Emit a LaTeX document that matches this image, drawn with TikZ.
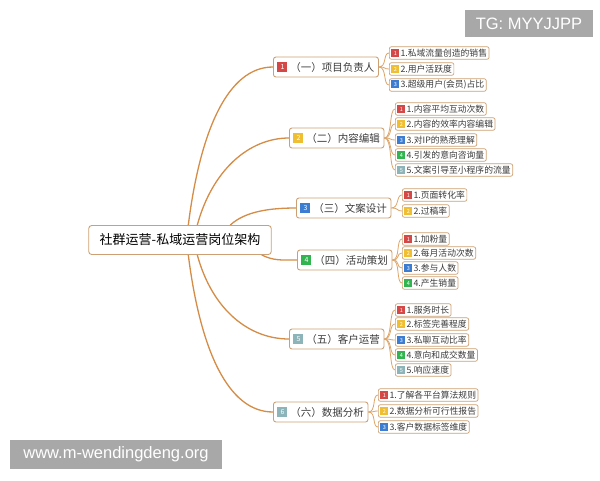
\documentclass[tikz,border=0pt]{standalone}
\usepackage{fontspec}
\setmainfont{Liberation Sans}
\newfontfamily\cjk{Noto Sans CJK SC}
\usetikzlibrary{backgrounds}
\definecolor{nodeborder}{RGB}{205,160,115}
\definecolor{linkorange}{RGB}{212,140,70}
\definecolor{linklight}{RGB}{222,165,105}
\definecolor{textgray}{RGB}{60,60,60}
\definecolor{bred}{RGB}{212,72,72}
\definecolor{byellow}{RGB}{240,190,50}
\definecolor{bblue}{RGB}{60,125,210}
\definecolor{bgreen}{RGB}{50,180,80}
\definecolor{bteal}{RGB}{140,180,185}
\definecolor{tagbg}{RGB}{168,168,168}
\newcommand\lb[2]{{\setlength\fboxsep{0pt}\colorbox{#1}{\makebox[8pt][c]{\rule[-0.6pt]{0pt}{8pt}\raisebox{1.2pt}{\textcolor{white}{\fontsize{5.5}{5}\selectfont #2}}}}}\hspace{1.2pt}}
\newcommand\mb[2]{{\setlength\fboxsep{0pt}\colorbox{#1}{\makebox[10pt][c]{\rule[-0.8pt]{0pt}{10pt}\raisebox{1.6pt}{\textcolor{white}{\fontsize{7}{7}\selectfont #2}}}}}\hspace{3pt}}
\begin{document}
\begin{tikzpicture}[x=1pt,y=-1pt,
  rootbox/.style={draw=nodeborder, line width=0.9pt, rounded corners=3pt, fill=white,
    font=\cjk\fontsize{13}{15}\selectfont, inner xsep=11pt, minimum height=29pt, text=black},
  lonebox/.style={draw=nodeborder, line width=0.9pt, rounded corners=2.5pt, fill=white,
    font=\cjk\fontsize{10.5}{12}\selectfont, text=textgray, minimum height=20pt,
    inner xsep=4pt, inner ysep=0pt, anchor=west},
  leafbox/.style={draw=nodeborder, line width=0.7pt, rounded corners=2pt, fill=white,
    font=\cjk\fontsize{8.8}{10}\selectfont, text=textgray, minimum height=12.5pt,
    inner xsep=2pt, inner ysep=0pt, anchor=west},
  mainlink/.style={draw=linkorange, line width=1.3pt},
  leaflink/.style={draw=linklight, line width=0.8pt},
  tagbox/.style={fill=tagbg, text=white, inner sep=0pt, font=\fontsize{16.5}{18}\selectfont}
]
\useasboundingbox (0,0) rectangle (600,480);

% root
\node[rootbox] (root) at (180,240) {社群运营-私域运营岗位架构};

% level 1
\node[lonebox] (l1) at (273,67)  {\mb{bred}{1}（一）项目负责人};
\node[lonebox] (l2) at (289,138) {\mb{byellow}{2}（二）内容编辑};
\node[lonebox] (l3) at (296,208) {\mb{bblue}{3}（三）文案设计};
\node[lonebox] (l4) at (297,260) {\mb{bgreen}{4}（四）活动策划};
\node[lonebox] (l5) at (289,339) {\mb{bteal}{5}（五）客户运营};
\node[lonebox] (l6) at (273,412) {\mb{bteal}{6}（六）数据分析};

% group 1
\node[leafbox] (a1) at (389,53) {\lb{bred}{1}1.私域流量创造的销售};
\node[leafbox] (a2) at (389,69) {\lb{byellow}{2}2.用户活跃度};
\node[leafbox] (a3) at (389,85) {\lb{bblue}{3}3.超级用户(会员)占比};
% group 2
\node[leafbox] (b1) at (395,109) {\lb{bred}{1}1.内容平均互动次数};
\node[leafbox] (b2) at (395,124) {\lb{byellow}{2}2.内容的效率内容编辑};
\node[leafbox] (b3) at (395,140) {\lb{bblue}{3}3.对IP的熟悉理解};
\node[leafbox] (b4) at (395,155) {\lb{bgreen}{4}4.引发的意向咨询量};
\node[leafbox] (b5) at (395,170) {\lb{bteal}{5}5.文案引导至小程序的流量};
% group 3
\node[leafbox] (c1) at (402,195) {\lb{bred}{1}1.页面转化率};
\node[leafbox] (c2) at (402,211) {\lb{byellow}{2}2.过稿率};
% group 4
\node[leafbox] (d1) at (402,239) {\lb{bred}{1}1.加粉量};
\node[leafbox] (d2) at (402,253) {\lb{byellow}{2}2.每月活动次数};
\node[leafbox] (d3) at (402,268) {\lb{bblue}{3}3.参与人数};
\node[leafbox] (d4) at (402,283) {\lb{bgreen}{4}4.产生销量};
% group 5
\node[leafbox] (e1) at (395,310) {\lb{bred}{1}1.服务时长};
\node[leafbox] (e2) at (395,324) {\lb{byellow}{2}2.标签完善程度};
\node[leafbox] (e3) at (395,340) {\lb{bblue}{3}3.私聊互动比率};
\node[leafbox] (e4) at (395,355) {\lb{bgreen}{4}4.意向和成交数量};
\node[leafbox] (e5) at (395,370) {\lb{bteal}{5}5.响应速度};
% group 6
\node[leafbox] (f1) at (378,395) {\lb{bred}{1}1.了解各平台算法规则};
\node[leafbox] (f2) at (378,411) {\lb{byellow}{2}2.数据分析可行性报告};
\node[leafbox] (f3) at (378,427) {\lb{bblue}{3}3.客户数据标签维度};

% tags
\node[tagbox, minimum width=128pt, minimum height=27pt] (tg) at (529,23.5) {TG: MYYJJPP};
\node[tagbox, minimum width=212pt, minimum height=29pt] (www) at (116,454.5) {www.m-wendingdeng.org};

\begin{scope}[on background layer]
\fill[white] (0,0) rectangle (600,480);
\draw[mainlink] ([xshift=100pt]root.north west) .. controls +(12,-95) and +(-45,0) .. (l1.west);
\draw[mainlink] ([xshift=109pt]root.north west) .. controls +(15,-55) and +(-40,0) .. (l2.west);
\draw[mainlink] ([xshift=142pt]root.north west) .. controls +(15,-14) and +(-25,0) .. (l3.west);
\draw[mainlink] ([xshift=-10pt]root.south east) .. controls +(12,6) and +(-15,0) .. (l4.west);
\draw[mainlink] ([xshift=109pt]root.south west) .. controls +(15,55) and +(-40,0) .. (l5.west);
\draw[mainlink] ([xshift=100pt]root.south west) .. controls +(12,95) and +(-45,0) .. (l6.west);
\foreach \p/\c in {l1/a1,l1/a2,l1/a3,l2/b1,l2/b2,l2/b3,l2/b4,l2/b5,l3/c1,l3/c2,
                   l4/d1,l4/d2,l4/d3,l4/d4,l5/e1,l5/e2,l5/e3,l5/e4,l5/e5,l6/f1,l6/f2,l6/f3}
  \draw[leaflink] (\p.east) .. controls +(8,0) and +(-6,0) .. (\c.west);
\end{scope}
\end{tikzpicture}
\end{document}
